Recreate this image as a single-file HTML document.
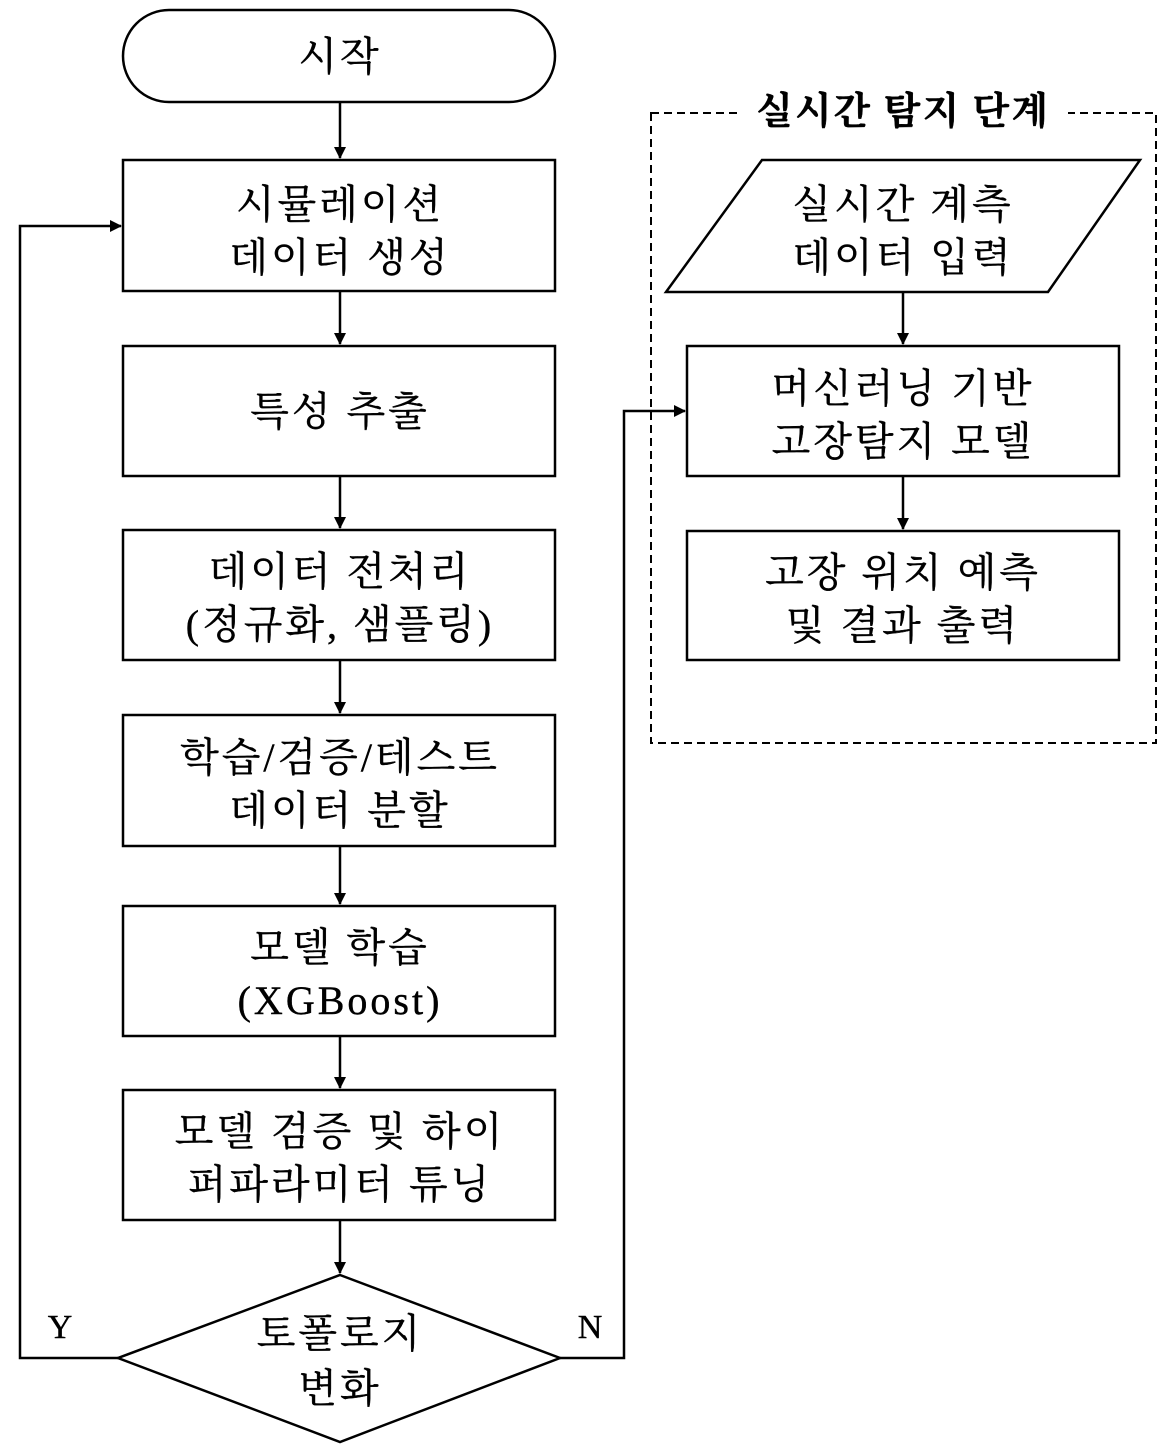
<!DOCTYPE html>
<html><head><meta charset="utf-8">
<style>
html,body{margin:0;padding:0;background:#fff;}
svg{display:block;}
text{font-family:"Liberation Serif","Noto Serif CJK KR","Noto Serif CJK SC",serif;font-size:40px;fill:#000;text-anchor:middle;letter-spacing:3px;stroke:#000;stroke-width:0.4px;}
</style></head><body>
<svg width="1168" height="1449" viewBox="0 0 1168 1449" xmlns="http://www.w3.org/2000/svg">
<defs>
<marker id="a" markerWidth="12" markerHeight="12" refX="11" refY="6" orient="auto" markerUnits="userSpaceOnUse">
<path d="M0,0 L12,6 L0,12 z" fill="#000"/></marker>
</defs>
<g fill="none" stroke="#000" stroke-width="2.5">
<rect x="123" y="10" width="432" height="92" rx="46" ry="46"/>
<rect x="123" y="160" width="432" height="131"/>
<rect x="123" y="346" width="432" height="130"/>
<rect x="123" y="530" width="432" height="130"/>
<rect x="123" y="715" width="432" height="131"/>
<rect x="123" y="906" width="432" height="130"/>
<rect x="123" y="1090" width="432" height="130"/>
<polygon points="340,1275 560,1358 340,1442 118,1358"/>
<rect x="651" y="113" width="505" height="630" stroke-dasharray="8,5" stroke-width="2"/>
<polygon points="762,160 1140,160 1048,292 666,292"/>
<rect x="687" y="346" width="432" height="130"/>
<rect x="687" y="531" width="432" height="129"/>
<line x1="340" y1="102" x2="340" y2="158" marker-end="url(#a)"/>
<line x1="340" y1="291" x2="340" y2="344" marker-end="url(#a)"/>
<line x1="340" y1="476" x2="340" y2="528" marker-end="url(#a)"/>
<line x1="340" y1="660" x2="340" y2="713" marker-end="url(#a)"/>
<line x1="340" y1="846" x2="340" y2="904" marker-end="url(#a)"/>
<line x1="340" y1="1036" x2="340" y2="1088" marker-end="url(#a)"/>
<line x1="340" y1="1220" x2="340" y2="1273" marker-end="url(#a)"/>
<line x1="903" y1="292" x2="903" y2="344" marker-end="url(#a)"/>
<line x1="903" y1="476" x2="903" y2="529" marker-end="url(#a)"/>
<polyline points="118,1358 20,1358 20,226 121,226" marker-end="url(#a)"/>
<polyline points="560,1358 624,1358 624,411 685,411" marker-end="url(#a)"/>
</g>
<rect x="738" y="90" width="330" height="45" fill="#fff"/>
<text x="903" y="124" style="font-weight:bold;font-size:38px;letter-spacing:2px">실시간 탐지 단계</text>
<text x="340" y="70">시작</text>
<text x="340" y="218">시뮬레이션</text>
<text x="340" y="271">데이터 생성</text>
<text x="340" y="425">특성 추출</text>
<text x="340" y="585">데이터 전처리</text>
<text x="340" y="638">(정규화, 샘플링)</text>
<text x="340" y="771">학습/검증/테스트</text>
<text x="340" y="824">데이터 분할</text>
<text x="340" y="961">모델 학습</text>
<text x="340" y="1014">(XGBoost)</text>
<text x="340" y="1145">모델 검증 및 하이</text>
<text x="340" y="1198">퍼파라미터 튜닝</text>
<text x="340" y="1347">토폴로지</text>
<text x="340" y="1402">변화</text>
<text x="60" y="1338" style="font-size:34px;letter-spacing:0">Y</text>
<text x="590" y="1338" style="font-size:34px;letter-spacing:0">N</text>
<text x="903" y="218">실시간 계측</text>
<text x="903" y="271">데이터 입력</text>
<text x="903" y="402">머신러닝 기반</text>
<text x="903" y="455">고장탐지 모델</text>
<text x="903" y="586">고장 위치 예측</text>
<text x="903" y="639">및 결과 출력</text>
</svg>
</body></html>
